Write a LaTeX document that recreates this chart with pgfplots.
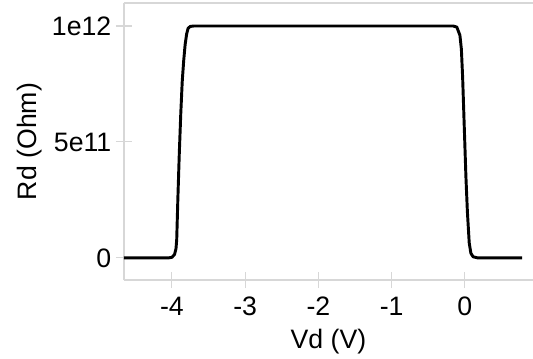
\documentclass[border=0pt]{standalone}
\usepackage{fontspec}
\setmainfont{Liberation Sans}
\usepackage{pgfplots}
\pgfplotsset{compat=1.18}
\definecolor{axgray}{RGB}{215,215,215}
\begin{document}
\begin{tikzpicture}
\begin{axis}[
  name=ax,
  at={(0,0)}, anchor=south west,
  scale only axis,
  width=306.75pt, height=207.75pt,
  xmin=-4.655, xmax=0.93,
  ymin=-0.095e12, ymax=1.099e12,
  axis x line=box, axis y line=left,
  xtick pos=bottom,
  axis line style={-, axgray, line width=0.8pt},
  xtick={-4,-3,-2,-1,0},
  xticklabels={-4,-3,-2,-1,0},
  ytick={0,5e11,1e12},
  yticklabels={0,5e11,1e12},
  scaled y ticks=false,
  tick align=center,
  major tick length=12pt,
  tick style={axgray, line width=0.8pt},
  /pgf/number format/assume math mode=true,
  every tick label/.append style={font=\fontsize{20}{24}\selectfont},
  xticklabel style={yshift=-3pt},
  xlabel={Vd (V)},
  ylabel={Rd (Ohm)},
  every axis x label/.style={at={(axis description cs:0.5,0)}, anchor=base, yshift=-51pt, font=\fontsize{20}{24}\selectfont},
  every axis y label/.style={at={(axis description cs:-0.2298,0.5)}, anchor=center, rotate=90, font=\fontsize{20}{24}\selectfont},
  clip=false,
]
\addplot[black, line width=2.2pt, line join=round] coordinates {
(-4.655,0) (-4.05,0) (-4.00,0.003e12) (-3.965,0.015e12) (-3.945,0.04e12)
(-3.935,0.08e12) (-3.92,0.25e12) (-3.90,0.45e12) (-3.88,0.62e12)
(-3.86,0.76e12) (-3.84,0.85e12) (-3.82,0.92e12) (-3.80,0.965e12)
(-3.78,0.99e12) (-3.75,0.998e12) (-3.70,1.0e12) (-2.0,1.0e12)
(-0.5,1.0e12) (-0.16,1.0e12) (-0.11,0.995e12) (-0.068,0.96e12)
(-0.048,0.90e12) (-0.031,0.78e12) (-0.007,0.55e12) (0.014,0.35e12)
(0.034,0.2e12) (0.059,0.065e12) (0.082,0.02e12) (0.113,0.005e12)
(0.18,0) (0.78,0)
};
\end{axis}
\pgfresetboundingbox
\path (-93pt,-58.5pt) rectangle (306.75pt,210pt);
\end{tikzpicture}
\end{document}
